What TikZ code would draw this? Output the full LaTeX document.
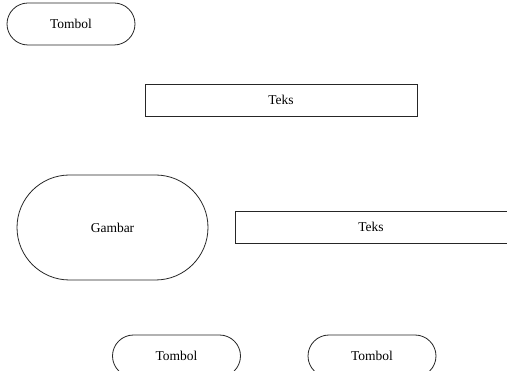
\documentclass[tikz,border=0pt]{standalone}
\usepackage{fontspec}
\setmainfont{Liberation Serif}
\usepackage{tikz}
\usetikzlibrary{shapes,shapes.misc,positioning}
\tikzset{%
  % Specifications for style of nodes:
            base/.style = {draw=black!85, line width=0.8pt,
                           text centered, font=\fontsize{13.5}{16}\selectfont},
          tombol/.style = {base, rounded rectangle,
                           minimum width=128pt, minimum height=42pt},
          gambar/.style = {base, rounded rectangle,
                           minimum width=191pt, minimum height=105pt},
            teks/.style = {base, rectangle,
                           minimum width=272pt, minimum height=32pt},
}
\begin{document}
\begin{tikzpicture}[x=1pt, y=-1pt,
    every node/.style={fill=white, inner sep=0pt}]
\useasboundingbox (0,0) rectangle (507,371);

\node (TA)     [tombol] at (71,24)          {Tombol};

\node (KA)     [teks]   at (281,100)        {Teks};

\node (GB)     [gambar] at (112.5,227.5)    {Gambar};

\node (KB)     [teks]   at (371,227)        {Teks};

\node (TB)     [tombol] at (176.5,356)      {Tombol};

\node (TC)     [tombol] at (372,356)        {Tombol};
  \end{tikzpicture}
\end{document}
